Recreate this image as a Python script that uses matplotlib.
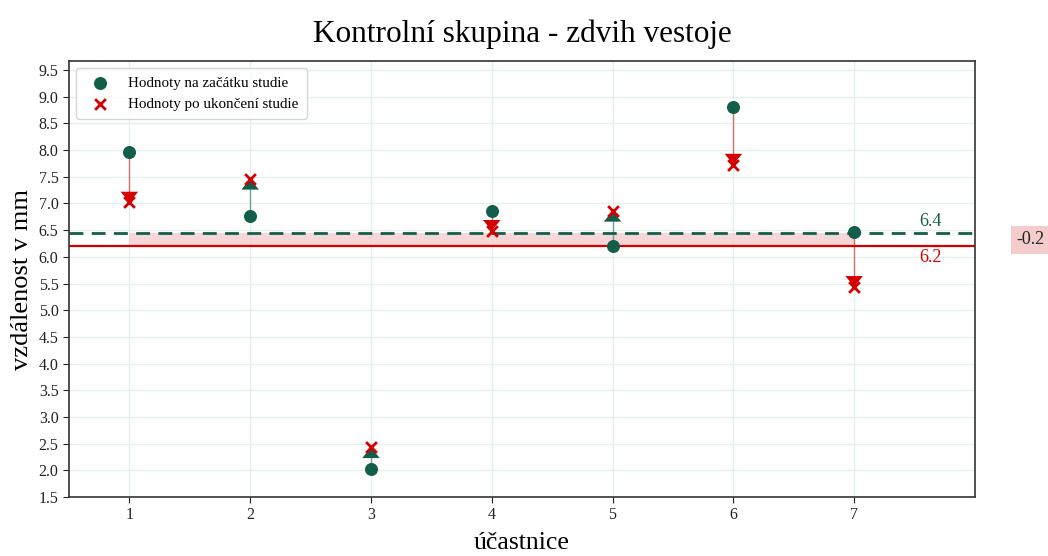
import matplotlib
matplotlib.use("Agg")
import matplotlib.pyplot as plt
import numpy as np

participants = [1, 2, 3, 4, 5, 6, 7]
start_vals = [7.97, 6.77, 2.03, 6.86, 6.20, 8.80, 6.47]
end_vals = [7.02, 7.46, 2.43, 6.49, 6.86, 7.73, 5.44]
title = "Kontrolní skupina - zdvih vestoje"
label_start = "Hodnoty na začátku studie"
label_end = "Hodnoty po ukončení studie"
xlabel = "účastnice"
ylabel = "vzdálenost v mm"

GREEN = "#135e4a"
RED = "#d40000"
PINK = "#f4cccc"

plt.rcParams['font.family'] = ['Liberation Serif', 'DejaVu Serif']

fig = plt.figure(figsize=(10.48, 5.56), dpi=100)
ax = fig.add_axes([0.0658, 0.1061, 0.8645, 0.7842])

mean_s = np.mean(start_vals)
mean_e = np.mean(end_vals)

ax.fill_between([participants[0], participants[-1]], mean_e, mean_s, color=PINK, alpha=0.8, lw=0, zorder=1)
ax.axhline(mean_s, color=GREEN, ls=(0, (5, 3)), lw=2, zorder=2)
ax.axhline(mean_e, color=RED, lw=1.6, zorder=2)

for x, s, e in zip(participants, start_vals, end_vals):
    c = GREEN if e > s else RED
    ax.plot([x, x], [s, e], color=c, alpha=0.55, lw=1, zorder=3)
    ax.annotate('', xy=(x, e), xytext=(x, s),
                arrowprops=dict(arrowstyle='-|>,head_length=0.55,head_width=0.45',
                                color=c, lw=0, mutation_scale=14,
                                shrinkA=0, shrinkB=0), zorder=4)

ax.scatter(participants, start_vals, s=70, color=GREEN, zorder=5, label=label_start)
ax.scatter(participants, end_vals, s=60, marker='x', color=RED, linewidths=2, zorder=6, label=label_end)

ax.text(7.63, mean_s + 0.06, f"{mean_s:.1f}", color=GREEN, fontsize=13, ha='center', va='bottom')
ax.text(7.63, mean_e - 0.06, f"{mean_e:.1f}", color=RED, fontsize=13, ha='center', va='top')
ax.text(8.46, (mean_s + mean_e) / 2, f"{mean_e - mean_s:.1f}", color='#222222', fontsize=13,
        ha='center', va='center', clip_on=False,
        bbox=dict(boxstyle='square,pad=0.3', fc=PINK, ec='none'))

ax.set_xlim(0.5, 8.0)
ax.set_ylim(1.5, 9.67)
ax.set_xticks(participants)
ax.set_yticks(np.arange(1.5, 9.51, 0.5))
ax.grid(True, color='#e3f1ee', lw=1, zorder=0)
ax.set_axisbelow(True)
ax.tick_params(labelsize=11.5, colors='#222222', length=4)
for sp in ax.spines.values():
    sp.set_color('#333333')
    sp.set_linewidth(1.2)

ax.set_title(title, fontsize=22.5, pad=14)
ax.set_xlabel(xlabel, fontsize=18.5, labelpad=6)
ax.set_ylabel(ylabel, fontsize=19, labelpad=4)

leg = ax.legend(loc='upper left', fontsize=10.8, frameon=True, borderpad=0.55, handletextpad=0.9)
leg.get_frame().set_edgecolor('#cccccc')

fig.savefig("out.png", dpi=100)
